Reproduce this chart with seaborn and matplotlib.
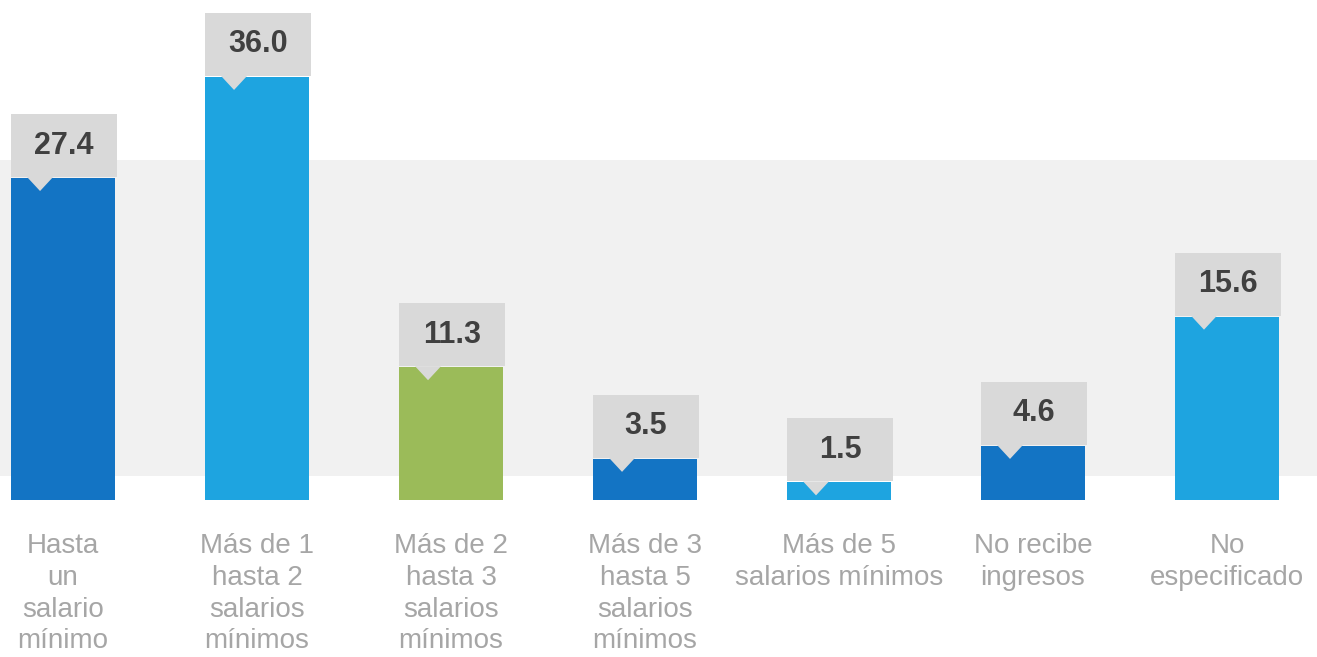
import numpy as np
import pandas as pd
import matplotlib
matplotlib.use("Agg")
import matplotlib.pyplot as plt
from matplotlib.patches import Rectangle, Polygon
import seaborn as sns

# -----------------------------------------------------------------------------
# DATA
# -----------------------------------------------------------------------------

categories = [
    "Hasta\nun\nsalario\nmínimo",
    "Más de 1\nhasta 2\nsalarios\nmínimos",
    "Más de 2\nhasta 3\nsalarios\nmínimos",
    "Más de 3\nhasta 5\nsalarios\nmínimos",
    "Más de 5\nsalarios mínimos",
    "No recibe\ningresos",
    "No\nespecificado",
]
values = [27.4, 36.0, 11.3, 3.5, 1.5, 4.6, 15.6]
bar_colors = ["#1374c4", "#1ea4e0", "#9bbb59", "#1374c4", "#1ea4e0", "#1374c4", "#1ea4e0"]

df = pd.DataFrame({"cat": categories, "val": values})

# -----------------------------------------------------------------------------
# PLOT
# -----------------------------------------------------------------------------

sns.set_theme(style="white")
plt.rcParams["font.family"] = ["Liberation Sans", "DejaVu Sans"]

W, H = 1317, 657
fig = plt.figure(figsize=(W / 100, H / 100), dpi=100)
ax = fig.add_axes([0, (H - 500) / H, 1, 500 / H])

YMAX = 42.55
BAR_W = 0.536

# light grey band behind the bars
ax.add_patch(Rectangle((0, 0.048), 1, 0.632, transform=ax.transAxes,
                       facecolor="#f1f1f1", edgecolor="none", zorder=0))

sns.barplot(data=df, x="cat", y="val", hue="cat", palette=bar_colors,
            width=BAR_W, legend=False, saturation=1, linewidth=0, ax=ax, zorder=2)

ax.set_ylim(0, YMAX)
ax.set_xlim(-0.325, 6.464)

# value callouts: grey box with a small pointer into the bar
px_y = YMAX / 500      # data units per pixel (vertical)
px_x = 1 / 194         # data units per pixel (horizontal)
box_h = 63 * px_y
tri_h = 14 * px_y
tri_hw = 13 * px_x
for i, v in enumerate(values):
    left = i - BAR_W / 2
    ax.add_patch(Rectangle((left, v + 1 * px_y), BAR_W + 2 * px_x, box_h,
                           facecolor="#d9d9d9", edgecolor="none", zorder=3))
    tip_x = left + 29 * px_x
    ax.add_patch(Polygon([(tip_x - tri_hw, v + 1 * px_y), (tip_x + tri_hw, v + 1 * px_y),
                          (tip_x, v + 1 * px_y - tri_h)],
                         facecolor="#d9d9d9", edgecolor="none", zorder=3))
    ax.text(i + 1 * px_x, v + 1 * px_y + box_h / 2, f"{v:.1f}", ha="center", va="center",
            fontsize=22, fontweight="bold", color="#404040", zorder=4)

ax.set_xlabel("")
ax.set_ylabel("")
ax.set_yticks([])
ax.tick_params(axis="x", length=0, pad=24, labelsize=20, labelcolor="#a6a6a6")
for lbl in ax.get_xticklabels():
    lbl.set_linespacing(1.28)
    lbl.set_verticalalignment("top")
sns.despine(ax=ax, left=True, bottom=True)

fig.savefig("out.png", dpi=100)
plt.close()
